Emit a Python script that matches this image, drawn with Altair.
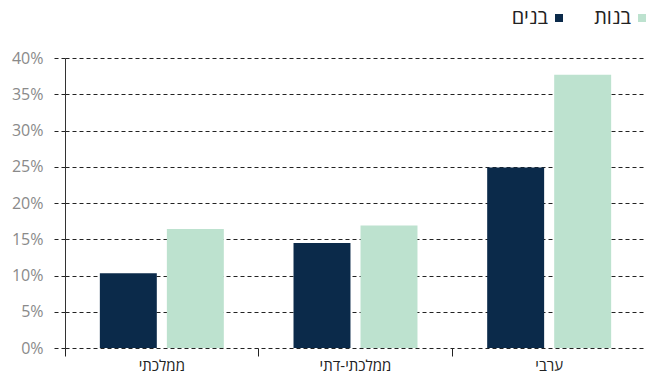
import altair as alt
import pandas as pd

categories = ["ממלכתי", "ממלכתי-דתי", "ערבי"]
groups = ["בנים", "בנות"]
boys = [0.103, 0.145, 0.249]
girls = [0.164, 0.169, 0.377]
y_ticks = [0, 0.05, 0.10, 0.15, 0.20, 0.25, 0.30, 0.35, 0.40]
colors = ["#0b2a4a", "#bde2cf"]

df = pd.DataFrame({
    "category": categories * 2,
    "group": [groups[0]] * 3 + [groups[1]] * 3,
    "value": boys + girls,
})

FONT = "Open Sans, DejaVu Sans, sans-serif"

chart = alt.Chart(df).mark_bar().encode(
    x=alt.X(
        "category:N",
        sort=categories,
        scale=alt.Scale(paddingInner=0, paddingOuter=0),
        axis=alt.Axis(
            title=None, labelAngle=0, domain=False, ticks=True, tickSize=8,
            tickColor="#222", bandPosition=0, grid=False, labelFontSize=15,
            labelColor="#222", labelPadding=2, labelFont=FONT,
        ),
    ),
    xOffset=alt.XOffset(
        "group:N", sort=groups,
        scale=alt.Scale(paddingInner=0.15, paddingOuter=0.52),
    ),
    y=alt.Y(
        "value:Q",
        scale=alt.Scale(domain=[0, 0.4], nice=False),
        axis=alt.Axis(
            values=y_ticks, format=".0%", title=None, grid=True,
            gridDash=[4, 3], gridColor="#222", gridWidth=1,
            tickDash=[4, 3], tickSize=12, tickColor="#222",
            domainColor="#333", labelColor="#8a8a8a", labelFontSize=16,
            labelPadding=10, minExtent=57, labelFont=FONT,
        ),
    ),
    color=alt.Color(
        "group:N", sort=groups,
        scale=alt.Scale(domain=groups, range=colors),
        legend=alt.Legend(
            title=None, orient="none", direction="horizontal",
            legendX=484, legendY=-50, symbolType="square", symbolSize=64,
            symbolStrokeWidth=0, labelFontSize=20, labelColor="#222",
            labelFont=FONT, labelAlign="right", labelOffset={"expr": "-21"},
            columnPadding=31, labelLimit=200,
        ),
    ),
).properties(
    width=581, height=290,
    padding={"left": 0, "top": 0, "right": 0, "bottom": 0},
).configure_view(stroke=None)

chart.save("out.html", embed_options={"renderer": "svg", "actions": False})
